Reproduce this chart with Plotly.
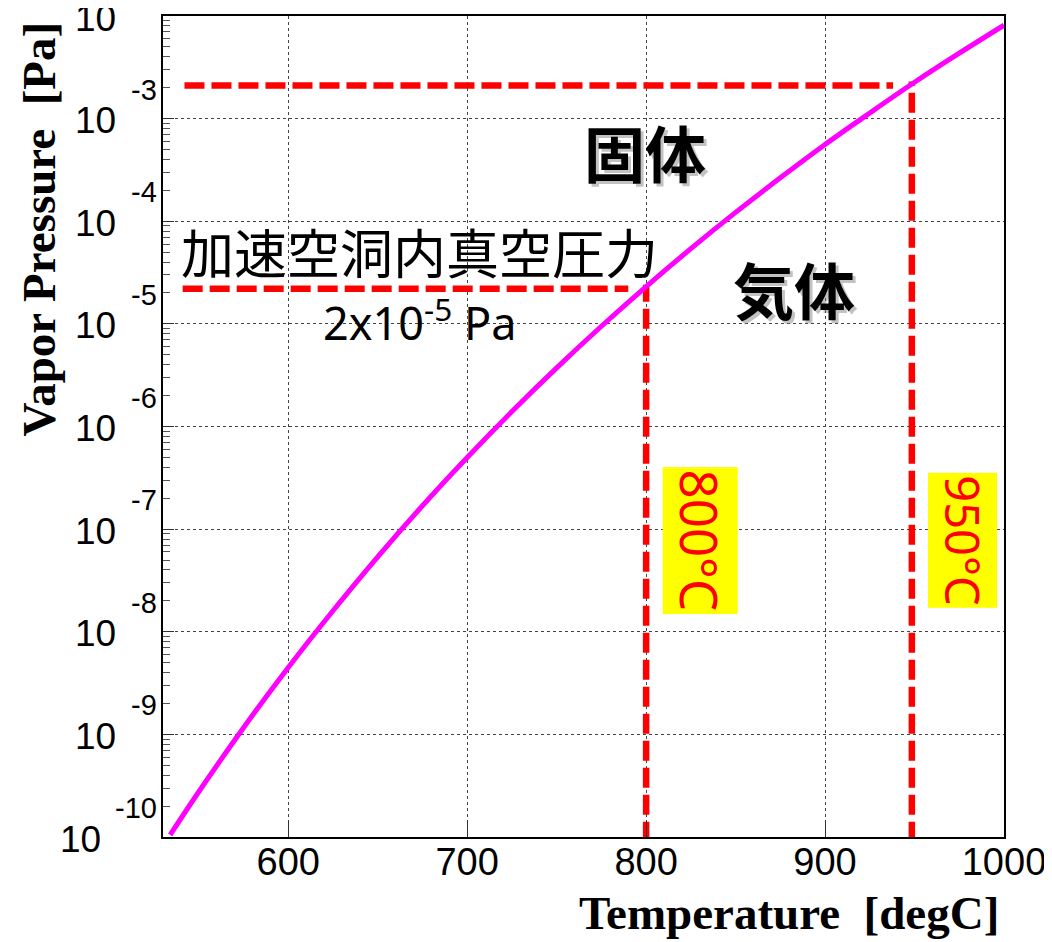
import plotly.graph_objects as go

# ---- data ----
temperature_c = [534, 550, 575, 600, 625, 650, 675, 700, 725, 750, 775, 800,
                 825, 850, 875, 900, 925, 950, 975, 1000]
vapor_pressure_pa = [1.05e-10, 2.76e-10, 1.16e-9, 4.48e-9, 1.60e-8, 5.37e-8, 1.69e-7,
                     4.99e-7, 1.40e-6, 3.73e-6, 9.48e-6, 2.31e-5, 5.41e-5, 1.22e-4,
                     2.65e-4, 5.60e-4, 1.135e-3, 2.26e-3, 4.34e-3, 8.13e-3]

# reference (dashed) lines
cavity_line_T = [541, 790]
cavity_line_p = [2.2e-5, 2.2e-5]
top_line_T = [542, 938]
top_line_p = [2.1e-3, 2.1e-3]
v800_T = [800, 800]
v800_p = [9.0e-11, 2.4e-5]
v950_T = [948.5, 948.5]
v950_p = [9.0e-11, 2.3e-3]

x_ticks = [600, 700, 800, 900, 1000]
y_decade_exponents = [-10, -9, -8, -7, -6, -5, -4, -3, -2]
y_minor = [m * 10.0 ** e for e in range(-10, -2) for m in range(2, 10)]

fig = go.Figure()

dash_style = dict(color="#ff0000", width=6.5, dash="20px,7px")
for tx, py in [(cavity_line_T, cavity_line_p), (top_line_T, top_line_p),
               (v800_T, v800_p), (v950_T, v950_p)]:
    fig.add_trace(go.Scatter(x=tx, y=py, mode="lines", line=dash_style,
                             hoverinfo="skip", showlegend=False, cliponaxis=False))

fig.add_trace(go.Scatter(x=temperature_c, y=vapor_pressure_pa, mode="lines",
                         line=dict(color="#ff00ff", width=5, shape="spline"),
                         showlegend=False))

ann = []
# y tick labels in ROOT style: "10" with raised exponent
for e in y_decade_exponents:
    s = str(e)
    ann.append(dict(xref="paper", yref="y", x=0, y=e, text="10", showarrow=False,
                    xanchor="right", yanchor="middle",
                    xshift=(-45 if len(s) <= 2 else -60), yshift=-2,
                    font=dict(family="Liberation Sans", size=37, color="black")))
    ann.append(dict(xref="paper", yref="y", x=0, y=e, text=s, showarrow=False,
                    xanchor="right", yanchor="middle", xshift=-4, yshift=29,
                    font=dict(family="Liberation Sans", size=29, color="black")))

# region labels with a soft shadow
for txt, tx, ly in [("固体", 799.4, -3.32), ("気体", 882.9, -4.66)]:
    ann.append(dict(x=tx, y=ly, text="<b>%s</b>" % txt, showarrow=False, xshift=3, yshift=-3,
                    font=dict(family="Noto Sans CJK JP", size=61, color="rgba(120,120,120,0.45)"),
                    xanchor="center", yanchor="middle"))
    ann.append(dict(x=tx, y=ly, text="<b>%s</b>" % txt, showarrow=False,
                    font=dict(family="Noto Sans CJK JP", size=61, color="black"),
                    xanchor="center", yanchor="middle"))

ann.append(dict(x=539.2, y=-4.29, text="加速空洞内真空圧力", showarrow=False,
                xanchor="left", yanchor="middle",
                font=dict(family="Noto Sans CJK JP", size=53, color="black")))
ann.append(dict(x=618.3, y=-4.96, text="2x10<sup>-5</sup> Pa", showarrow=False,
                xanchor="left", yanchor="middle",
                font=dict(family="Noto Sans", size=45, color="black")))

for txt, tx, fs in [("800°C", 830, 51), ("950°C", 976.6, 47)]:
    ann.append(dict(x=tx, y=-7.11, text=txt, showarrow=False, textangle=90,
                    xanchor="center", yanchor="middle", bgcolor="#ffff00", borderpad=2,
                    font=dict(family="Noto Sans", size=fs, color="#ff0000")))

# axis titles
ann.append(dict(xref="paper", yref="paper", x=0, y=1, text="<b>Vapor Pressure&nbsp;&nbsp;[Pa]</b>",
                textangle=-90, showarrow=False, xanchor="center", yanchor="top",
                xshift=-125, yshift=-4,
                font=dict(family="Liberation Serif", size=47, color="black")))
ann.append(dict(xref="paper", yref="paper", x=1, y=0, text="<b>Temperature&nbsp;&nbsp;[degC]</b>",
                showarrow=False, xanchor="right", yanchor="middle",
                xshift=-3, yshift=-76,
                font=dict(family="Liberation Serif", size=47, color="black")))

fig.update_layout(
    width=1044, height=934,
    margin=dict(l=155, r=45, t=6, b=105),
    paper_bgcolor="white", plot_bgcolor="white",
    annotations=ann,
    xaxis=dict(range=[530, 1000], tickvals=x_ticks, ticks="inside", ticklen=17,
               tickwidth=1, tickcolor="#333", showgrid=True, gridcolor="#444",
               griddash="dot", gridwidth=1, showline=True, linecolor="black",
               linewidth=2, mirror=True, zeroline=False,
               tickfont=dict(family="Liberation Sans", size=38, color="black"),
               ticklabelstandoff=-10),
    yaxis=dict(type="log", range=[-10, -2],
               tickvals=[10.0 ** e for e in y_decade_exponents],
               showticklabels=False, ticks="inside", ticklen=11, tickwidth=1,
               tickcolor="#333", showgrid=True, gridcolor="#444", griddash="dot",
               gridwidth=1, showline=True, linecolor="black", linewidth=2,
               mirror=True, zeroline=False,
               minor=dict(tickvals=y_minor, ticks="inside", ticklen=7,
                          tickcolor="#555", showgrid=False)),
)

fig.write_html("out.html")
